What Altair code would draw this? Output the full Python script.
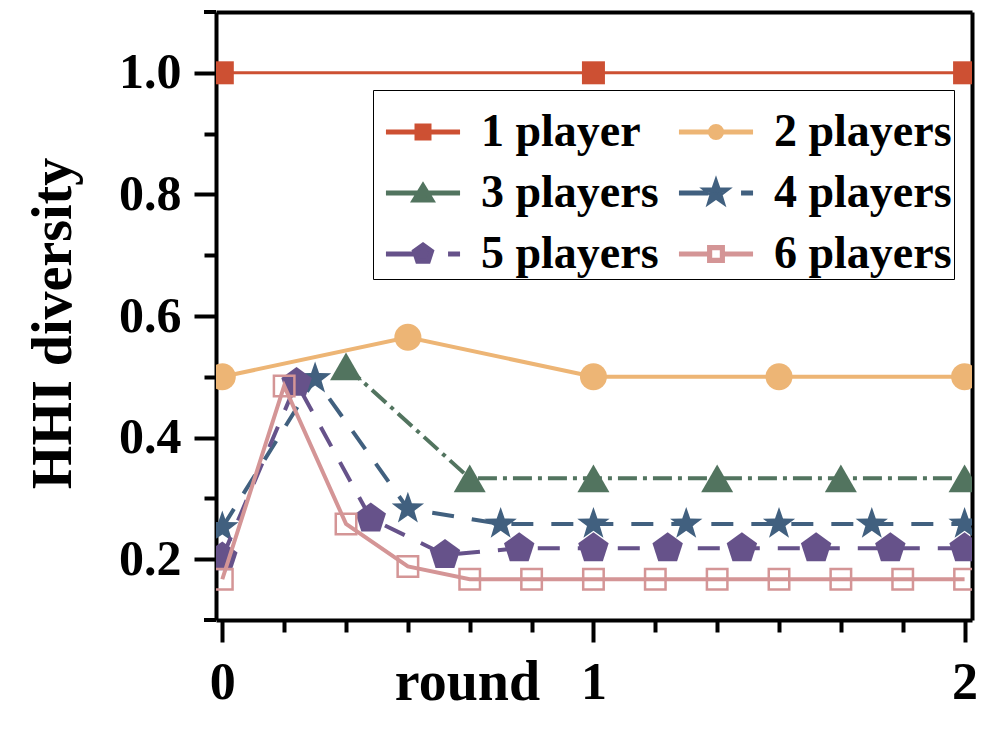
import math
import altair as alt
import pandas as pd

# ---------------- data ----------------
series = ["1 player", "2 players", "3 players", "4 players", "5 players", "6 players"]

rounds_1 = [0, 1, 2]
hhi_1 = [1.0, 1.0, 1.0]

rounds_2 = [0, 0.5, 1, 1.5, 2]
hhi_2 = [0.5, 0.565, 0.5, 0.5, 0.5]

rounds_3 = [1 / 3, 2 / 3, 1, 4 / 3, 5 / 3, 2]
hhi_3 = [0.517, 0.333, 0.333, 0.333, 0.333, 0.333]

rounds_4 = [0, 0.25, 0.5, 0.75, 1, 1.25, 1.5, 1.75, 2]
hhi_4 = [0.252, 0.497, 0.283, 0.258, 0.258, 0.258, 0.258, 0.258, 0.258]

rounds_5 = [0, 0.2, 0.4, 0.6, 0.8, 1, 1.2, 1.4, 1.6, 1.8, 2]
hhi_5 = [0.203, 0.49, 0.267, 0.207, 0.218, 0.218, 0.218, 0.218, 0.218, 0.218, 0.218]

rounds_6 = [0, 1 / 6, 2 / 6, 3 / 6, 4 / 6, 5 / 6, 1, 7 / 6, 8 / 6, 9 / 6, 10 / 6, 11 / 6, 2]
hhi_6 = [0.167, 0.485, 0.258, 0.188, 0.167, 0.167, 0.167, 0.167, 0.167, 0.167, 0.167, 0.167, 0.167]

x_major_ticks = [0, 1, 2]
x_minor_ticks = [1 / 6, 2 / 6, 3 / 6, 4 / 6, 5 / 6, 7 / 6, 8 / 6, 9 / 6, 10 / 6, 11 / 6]
y_major_ticks = [0.2, 0.4, 0.6, 0.8, 1.0]
y_minor_ticks = [0.3, 0.5, 0.7, 0.9]

all_rounds = [rounds_1, rounds_2, rounds_3, rounds_4, rounds_5, rounds_6]
all_hhi = [hhi_1, hhi_2, hhi_3, hhi_4, hhi_5, hhi_6]

rows = []
for name, rs, vs in zip(series, all_rounds, all_hhi):
    for r, v in zip(rs, vs):
        rows.append({"series": name, "round": r, "hhi": v})
df = pd.DataFrame(rows)

# ---------------- styles ----------------
colors = ["#CD5033", "#EDB575", "#52745F", "#41607F", "#66528A", "#D49596"]
FONT = "Liberation Serif"


def f(v):
    return f"{v:.3f}"


def star_path(R, ratio=0.4):
    pts = []
    for k in range(10):
        ang = -math.pi / 2 + k * math.pi / 5
        rr = R if k % 2 == 0 else R * ratio
        pts.append((rr * math.cos(ang), rr * math.sin(ang)))
    return "M" + "L".join(f"{f(x)},{f(y)}" for x, y in pts) + "Z"


def pent_path(R):
    pts = []
    for k in range(5):
        ang = -math.pi / 2 + k * 2 * math.pi / 5
        pts.append((R * math.cos(ang), R * math.sin(ang)))
    return "M" + "L".join(f"{f(x)},{f(y)}" for x, y in pts) + "Z"


def square_path(a):
    return f"M{f(-a)},{f(-a)}H{f(a)}V{f(a)}H{f(-a)}Z"


def ring_path(a, b):
    return square_path(a) + f"M{f(-b)},{f(-b)}V{f(b)}H{f(b)}V{f(-b)}Z"


def circle_path(r):
    return f"M{f(r)},0A{f(r)},{f(r)} 0 1,1 {f(-r)},0A{f(r)},{f(r)} 0 1,1 {f(r)},0Z"


def tri_path(w, h):
    return f"M0,{f(-h)}L{f(w)},{f(h)}L{f(-w)},{f(h)}Z"


# plot markers
point_styles = [
    dict(shape="square", size=529, filled=True),
    dict(shape="circle", size=729, filled=True),
    dict(shape="triangle-up", size=1024, filled=True),
    dict(shape=star_path(1.0), size=1156, filled=True),
    dict(shape=pent_path(1.0), size=1024, filled=True),
    dict(shape="square", size=420, filled=False, strokeWidth=2.5),
]
line_styles = [
    dict(strokeWidth=3),
    dict(strokeWidth=4),
    dict(strokeWidth=4, strokeDash=[19, 6, 4, 6]),
    dict(strokeWidth=4, strokeDash=[22, 18]),
    dict(strokeWidth=4, strokeDash=[22, 18]),
    dict(strokeWidth=4),
]

# legend symbols (line + marker), unit = 15px
L = 2.47
full = f"M{f(-L)},0H{f(L)}"
dashed = f"M{f(-L)},0H-0.5M1.67,0H{f(L)}"
legend_paths = [
    full + square_path(0.4),
    full + circle_path(0.37),
    full + tri_path(0.57, 0.47),
    dashed + star_path(0.67),
    dashed + pent_path(0.6),
    f"M{f(-L)},0H-0.43M0.43,0H{f(L)}" + ring_path(0.43, 0.42),
]

xscale = alt.Scale(domain=[-0.017, 2.02], nice=False, zero=False)
yscale = alt.Scale(domain=[0.1, 1.1], nice=False, zero=False)

x_major_axis = alt.Axis(
    values=x_major_ticks, labelExpr="format(datum.value, 'd')", orient="bottom", grid=False,
    tickCount=20,
    tickSize=22, tickWidth=4, tickColor="black", domainWidth=4, domainColor="black",
    labelFont=FONT, labelFontSize=52, labelFontWeight="bold", labelColor="black",
    labelBaseline="alphabetic", labelPadding=56, labelFlush=False, labelOverlap=False,
    title="round", titleFont=FONT, titleFontSize=56, titleFontWeight="bold", titleColor="black",
    titleX=251, titleY=79, titleBaseline="alphabetic", titleAlign="center",
)
y_major_axis = alt.Axis(
    values=y_major_ticks, format=".1f", orient="left", grid=False, tickCount=20,
    tickSize=22, tickWidth=4, tickColor="black", domainWidth=4, domainColor="black",
    labelFont=FONT, labelFontSize=50, labelFontWeight="bold", labelColor="black",
    labelPadding=13, labelOverlap=False,
    title="HHI diversity", titleFont=FONT, titleFontSize=56, titleFontWeight="bold", titleColor="black",
    titleX=-146, titleY=311, titleBaseline="alphabetic", titleAlign="center", titleAngle=-90,
)
x_minor_axis = alt.Axis(
    values=x_minor_ticks, orient="bottom", grid=False, labels=False, domain=False, tickCount=20,
    tickSize=12, tickWidth=4, tickColor="black", title=None,
)
y_minor_axis = alt.Axis(
    values=y_minor_ticks, orient="left", grid=False, labels=False, domain=False, tickCount=20,
    tickSize=12, tickWidth=4, tickColor="black", title=None,
)
x_top_axis = alt.Axis(
    orient="top", grid=False, labels=False, ticks=False, domain=True,
    domainWidth=4, domainColor="black", title=None,
)
y_right_axis = alt.Axis(
    orient="right", grid=False, labels=False, ticks=False, domain=True,
    domainWidth=4, domainColor="black", title=None,
)

layers = []
for i, name in enumerate(series):
    base = alt.Chart(df).transform_filter(alt.datum.series == name)
    ax_x = {0: x_major_axis, 1: x_top_axis}.get(i, None)
    ax_y = {0: y_major_axis, 1: y_right_axis}.get(i, None)
    enc_x = alt.X("round:Q", scale=xscale, axis=ax_x)
    enc_y = alt.Y("hhi:Q", scale=yscale, axis=ax_y)
    line = base.mark_line(color=colors[i], clip=True, **line_styles[i]).encode(x=enc_x, y=enc_y)
    ps = point_styles[i]
    if ps["filled"]:
        pt = base.mark_point(shape=ps["shape"], size=ps["size"], filled=True, color=colors[i],
                             opacity=1, clip=True)
    else:
        pt = base.mark_point(shape=ps["shape"], size=ps["size"], filled=False, stroke=colors[i],
                             strokeWidth=ps["strokeWidth"], opacity=1, clip=True)
    pt = pt.encode(x=alt.X("round:Q", scale=xscale, axis=None),
                   y=alt.Y("hhi:Q", scale=yscale, axis=None))
    layers += [line, pt]

legend_spec = alt.Legend(
    title=" ", titleFontSize=12, titlePadding=5,
    orient="none", legendX=157, legendY=78, columns=2, direction="horizontal",
    symbolSize=900, symbolStrokeWidth=5, symbolOpacity=1, symbolOffset=25,
    labelFont=FONT, labelFontSize=46, labelFontWeight="bold", labelColor="black",
    labelOffset=35, labelLimit=0, rowPadding=15, columnPadding=9, padding=2,
    strokeColor="black",
)
legend_layer = alt.Chart(df).mark_point(opacity=0, filled=True, clip=True).encode(
    x=alt.X("round:Q", scale=xscale, axis=x_minor_axis),
    y=alt.Y("hhi:Q", scale=yscale, axis=y_minor_axis),
    fill=alt.Fill("series:N", scale=alt.Scale(domain=series, range=colors), legend=legend_spec),
    stroke=alt.Stroke("series:N", scale=alt.Scale(domain=series, range=colors), legend=legend_spec),
    shape=alt.Shape("series:N", scale=alt.Scale(domain=series, range=legend_paths), legend=legend_spec),
)
layers.append(legend_layer)

# frame stubs: top and bottom spines extend a little left of the y axis
stub_src = alt.Chart(pd.DataFrame({"k": [0]}))
stub_top = stub_src.mark_rule(color="black", strokeWidth=4, clip=False).encode(
    x=alt.value(-12), x2=alt.value(0), y=alt.value(0))
stub_bottom = stub_src.mark_rule(color="black", strokeWidth=4, clip=False).encode(
    x=alt.value(-12), x2=alt.value(0), y=alt.value(608))
layers += [stub_top, stub_bottom]

chart = (
    alt.layer(*layers)
    .resolve_axis(x="independent", y="independent")
    .properties(
        width=756, height=608,
        autosize=alt.AutoSizeParams(type="none"),
        padding={"left": 208, "top": 4, "right": 18, "bottom": 110},
        background="white",
    )
    .configure_view(stroke="black", strokeWidth=4)
    .configure_legend(strokeWidth=3)
    .configure(font=FONT)
)

chart.save("out.html", embed_options={"renderer": "svg", "actions": False})
